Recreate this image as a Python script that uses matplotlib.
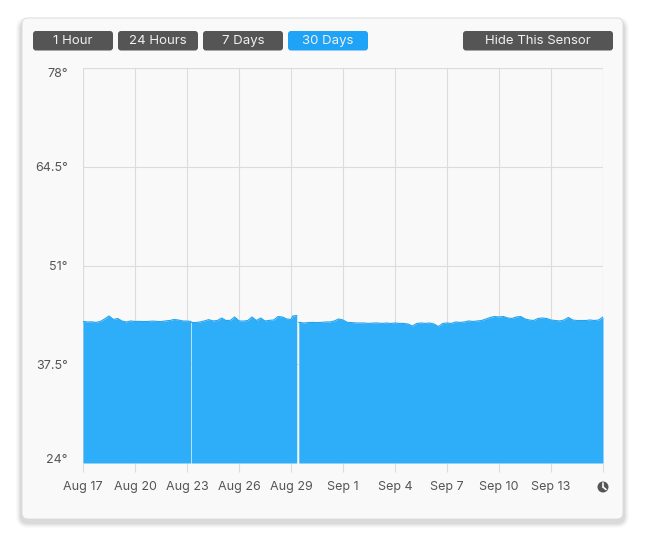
import matplotlib.pyplot as plt
from matplotlib.patches import FancyBboxPatch, Circle

plt.rcParams['font.family'] = ['Inter', 'DejaVu Sans']

# data: days since Aug 17 00:00, temperature readings (deg F)
seg1_days = [0, 0.25, 0.5, 0.75, 1, 1.25, 1.5, 1.75, 2, 2.25, 2.5, 2.75, 3, 3.25, 3.5,
             3.75, 4, 4.25, 4.5, 4.75, 5, 5.25, 5.5, 5.75, 6, 6.22]
seg1_temp = [43.35, 43.28, 43.3, 43.22, 43.35, 43.7, 44.1, 43.62, 43.76, 43.41, 43.28,
             43.42, 43.35, 43.36, 43.34, 43.35, 43.4, 43.36, 43.33, 43.42, 43.48, 43.62,
             43.55, 43.42, 43.4, 43.35]

seg2_days = [6.26, 6.5, 6.75, 7, 7.25, 7.5, 7.75, 8, 8.25, 8.5, 8.75, 9, 9.25, 9.5,
             9.75, 10, 10.25, 10.5, 10.75, 11, 11.25, 11.5, 11.75, 12, 12.1, 12.33]
seg2_temp = [43.22, 43.2, 43.28, 43.42, 43.6, 43.42, 43.48, 43.82, 43.48, 43.5, 43.96,
             43.42, 43.4, 43.48, 43.96, 43.48, 43.82, 43.42, 43.5, 43.55, 44.03, 43.96,
             43.69, 43.62, 44.1, 44.16]

seg3_days = [12.45, 12.5, 12.75, 13, 13.25, 13.5, 13.75, 14, 14.25, 14.5, 14.75, 15,
             15.25, 15.5, 15.75, 16, 16.25, 16.5, 16.75, 17, 17.25, 17.5, 17.75, 18,
             18.25, 18.5, 18.75, 19, 19.25, 19.5, 19.75, 20, 20.25, 20.5, 20.75, 21,
             21.25, 21.5, 21.75, 22, 22.25, 22.5, 22.75, 23, 23.25, 23.5, 23.75, 24,
             24.25, 24.5, 24.75, 25, 25.25, 25.5, 25.75, 26, 26.25, 26.5, 26.75, 27,
             27.25, 27.5, 27.75, 28, 28.25, 28.5, 28.75, 29, 29.25, 29.5, 29.75, 30]
seg3_temp = [43.22, 43.22, 43.14, 43.2, 43.22, 43.2, 43.22, 43.28, 43.28, 43.42, 43.69,
             43.55, 43.22, 43.2, 43.14, 43.14, 43.14, 43.08, 43.14, 43.14, 43.08, 43.14,
             43.07, 43.14, 43.08, 43.08, 43.0, 42.73, 43.07, 43.14, 43.08, 43.14, 43.0,
             42.66, 43.07, 43.14, 43.08, 43.28, 43.22, 43.28, 43.42, 43.35, 43.42, 43.48,
             43.69, 43.9, 44.03, 43.96, 44.03, 43.82, 43.76, 43.96, 44.03, 43.69, 43.55,
             43.48, 43.76, 43.82, 43.76, 43.55, 43.48, 43.42, 43.55, 43.9, 43.55, 43.48,
             43.48, 43.48, 43.55, 43.48, 43.55, 43.96]

x_ticks = [0, 3, 6, 9, 12, 15, 18, 21, 24, 27]
x_labels = ['Aug 17', 'Aug 20', 'Aug 23', 'Aug 26', 'Aug 29', 'Sep 1', 'Sep 4',
            'Sep 7', 'Sep 10', 'Sep 13']
y_ticks = [24, 37.5, 51, 64.5, 78]
y_labels = ['24°', '37.5°', '51°', '64.5°', '78°']

buttons = ['1 Hour', '24 Hours', '7 Days', '30 Days']
active_button = '30 Days'

W, H = 646, 546
fig = plt.figure(figsize=(W / 100, H / 100), dpi=100)
fig.patch.set_facecolor('white')

# background layer in pixel coordinates
bg = fig.add_axes([0, 0, 1, 1])
bg.set_xlim(0, W)
bg.set_ylim(H, 0)
bg.axis('off')

# soft card shadow
for i, a in enumerate([0.02, 0.025, 0.03, 0.035, 0.04]):
    g = 6 - i
    bg.add_patch(FancyBboxPatch((22 - g, 20 - g + 3), 601 + 2 * g, 499 + 2 * g,
                                boxstyle='round,pad=0,rounding_size=%d' % (6 + g),
                                fc='black', ec='none', alpha=a))
bg.add_patch(FancyBboxPatch((22, 18), 601, 501, boxstyle='round,pad=0,rounding_size=6',
                            fc='#f9f9f9', ec='#d8d8d8', lw=0.6))

# range buttons
for i, name in enumerate(buttons):
    x0 = 33 + 85 * i
    col = '#1ea3f7' if name == active_button else '#555555'
    bg.add_patch(FancyBboxPatch((x0, 31), 80, 19.5, boxstyle='round,pad=0,rounding_size=3',
                                fc=col, ec='none'))
    bg.text(x0 + 40, 41, name, ha='center', va='center', color='#f0f0f0', fontsize=9.5)
bg.add_patch(FancyBboxPatch((463, 31), 150, 19.5, boxstyle='round,pad=0,rounding_size=3',
                            fc='#555555', ec='none'))
bg.text(538, 41, 'Hide This Sensor', ha='center', va='center', color='#f0f0f0', fontsize=9.5)

# clock icon at the end of the x axis
bg.add_patch(Circle((603, 487), 5.5, fc='#555555', ec='none'))
bg.plot([603, 603], [487, 483], color='#f9f9f9', lw=1.2, solid_capstyle='round')
bg.plot([603, 606], [487, 489.5], color='#f9f9f9', lw=1.2, solid_capstyle='round')

# main chart
ax = fig.add_axes([83 / W, (H - 463) / H, 520 / W, 395 / H])
ax.set_facecolor('none')
blue = '#2eadf8'
for d, t in [(seg1_days, seg1_temp), (seg2_days, seg2_temp), (seg3_days, seg3_temp)]:
    ax.fill_between(d, 24, t, color=blue, lw=0, zorder=3)
    ax.plot(d, t, color='#27a3ee', lw=0.8, zorder=4)

ax.set_xlim(0, 30)
ax.set_ylim(24, 78)
ax.set_xticks(x_ticks + [30])
ax.set_xticklabels(x_labels + [''])
ax.set_yticks(y_ticks)
ax.set_yticklabels(y_labels)
ax.grid(True, color='#dcdcdc', lw=0.8, zorder=0)
for s in ax.spines.values():
    s.set_visible(False)
ax.tick_params(axis='x', length=6.5, width=0.8, color='#dcdcdc', labelcolor='#555555',
               labelsize=9, pad=6.5)
ax.tick_params(axis='y', length=0, labelcolor='#555555', labelsize=9, pad=11)
ylabs = ax.get_yticklabels()
ylabs[0].set_va('baseline')
ylabs[-1].set_va('top')
ax.axvline(0, color='#dcdcdc', lw=0.8, zorder=0)
ax.axvline(30, color='#dcdcdc', lw=0.8, zorder=0)
ax.axhline(78, color='#dcdcdc', lw=0.8, zorder=0)

fig.savefig('out.png', dpi=100, facecolor='white')
